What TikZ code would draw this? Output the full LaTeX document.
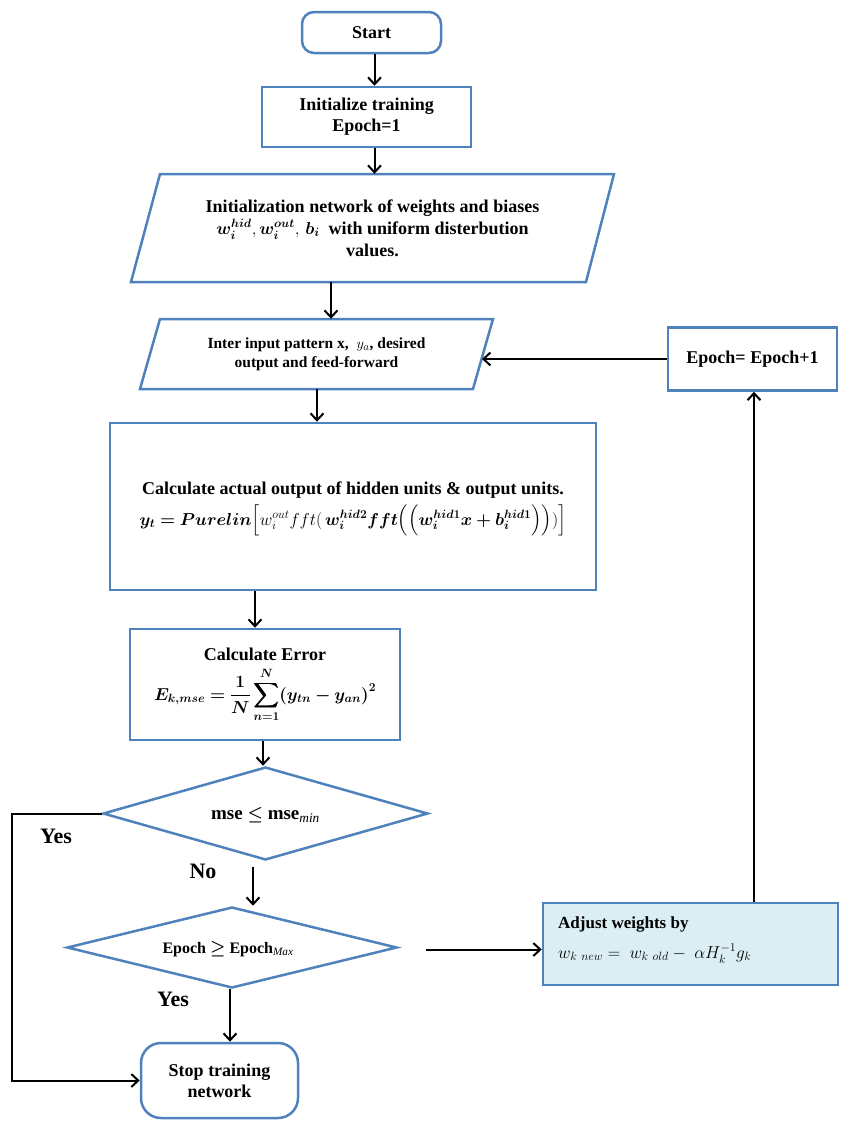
\documentclass[tikz,border=0pt]{standalone}
\usepackage{amsmath}
\usepackage{bm}
\usepackage{fontspec}
\setmainfont{Liberation Serif}
\usetikzlibrary{arrows.meta,shapes.geometric,calc}
\definecolor{bblue}{HTML}{4F81BD}
\definecolor{lblue}{HTML}{DBEEF4}
\begin{document}
\begin{tikzpicture}[x=1pt,y=-1pt,
  box/.style={draw=bblue,line width=2.5pt,fill=white,align=center,inner sep=0pt,font=\fontsize{18}{21}\selectfont\bfseries},
  dia/.style={draw=bblue,line width=2.5pt,diamond,inner sep=0pt,aspect=3.5},
  arr/.style={line width=2pt,-{Straight Barb[length=7pt,width=13pt,line width=2pt]}},
  lbl/.style={font=\fontsize{22}{26}\selectfont\bfseries}]
\useasboundingbox (0,0) rectangle (852,1127);
% nodes
\node[box,rounded corners=12pt,minimum width=139pt,minimum height=41pt] (start) at (371.5,32.5) {Start};
\node[box,minimum width=209pt,minimum height=60pt] (init) at (366.5,117) {Initialize training\\Epoch=1};
% parallelogram 1
\draw[draw=bblue,line width=2.5pt] (160,174) -- (614,174) -- (586,282) -- (131,282) -- cycle;
\node[align=center,inner sep=0pt,minimum width=483pt,minimum height=108pt,font=\fontsize{18}{22}\selectfont\bfseries] (par1) at (372.5,228)
 {Initialization network of weights and biases\\
  $\bm{w_i^{hid}},\bm{w_i^{out}},\,\bm{b_i}$\ \ with uniform disterbution\\ values.};
% parallelogram 2
\draw[draw=bblue,line width=2.5pt] (160,319) -- (493,319) -- (473,389) -- (140,389) -- cycle;
\node[align=center,inner sep=0pt,minimum width=353pt,minimum height=70pt,font=\fontsize{15.5}{19}\selectfont\bfseries] (par2) at (316.5,354)
 {Inter input pattern x,\ \ $y_a$, desired\\ output and feed-forward};
\coordinate (par2r) at (482,359);
% calc box
\node[box,minimum width=486pt,minimum height=167pt,font=\fontsize{18}{22}\selectfont\bfseries] (calc) at (353,506.5) {};
\node[align=center,inner sep=0pt,font=\fontsize{18}{22}\selectfont\bfseries] (calct) at (353,509)
 {Calculate actual output of hidden units \& output units.\\[6pt]
  $\bm{y_t = Purelin}\Big[w_i^{out}fft(\,\bm{w_i^{hid2}fft}\Big(\Big(\bm{w_i^{hid1}x+b_i^{hid1}}\Big)\Big))\Big]$};
% error box
\node[box,minimum width=270pt,minimum height=111pt] (err) at (265,684.5) {};
\node[align=center,inner sep=0pt,font=\fontsize{18}{21}\selectfont\bfseries] (errt) at (265,685)
 {Calculate Error\\[6pt]
  $\displaystyle\bm{E_{k,mse}=\frac{1}{N}\sum_{n=1}^{N}(y_{tn}-y_{an})^2}$};
% diamonds
\node[dia,minimum width=325pt,minimum height=93pt] (d1) at (265.5,813.5) {};
\node[font=\fontsize{19}{22}\selectfont\bfseries] at (265.5,815) {mse $\bm{\leq}$ mse$_{\mathit{min}}$};
\node[dia,minimum width=330pt,minimum height=81pt] (d2) at (232,947.5) {};
\node[font=\fontsize{16}{19}\selectfont\bfseries] at (228,949) {Epoch $\bm{\geq}$ Epoch$_{\mathit{Max}}$};
% stop
\node[box,rounded corners=20pt,minimum width=157pt,minimum height=75pt] (stop) at (219.5,1080.5) {Stop training\\network};
% adjust
\node[draw=bblue,line width=2.5pt,fill=lblue,minimum width=295pt,minimum height=82pt,inner sep=0pt] (adj) at (690.5,944) {};
\node[anchor=west,align=left,inner sep=0pt,font=\fontsize{17}{30}\selectfont] (adjt) at (558,940)
 {\textbf{Adjust weights by}\\ \fontsize{18}{30}\selectfont$w_{k\ new}=\ w_{k\ old}-\ \alpha H_k^{-1}g_k$};
% epoch
\node[box,minimum width=169pt,minimum height=63pt] (ep) at (752.5,359) {Epoch= Epoch+1};
% labels
\node[lbl] (yes1) at (56,836) {Yes};
\node[lbl] (no) at (203,871) {No};
\node[lbl] (yes2) at (173,999) {Yes};
% connectors
\draw[arr] ([xshift=3pt]start.south) -- ([xshift=3pt]start.south |- init.north);
\draw[arr] ([xshift=8pt]init.south) -- ([xshift=8pt]init.south |- par1.north);
\draw[arr] ([xshift=-41.5pt]par1.south) -- ([xshift=-41.5pt]par1.south |- par2.north);
\draw[arr] ([xshift=0.5pt]par2.south) -- ([xshift=0.5pt]par2.south |- calc.north);
\draw[arr] ([xshift=-10pt]err.north |- calc.south) -- ([xshift=-10pt]err.north);
\draw[arr] ([xshift=-2.5pt]d1.north |- err.south) -- ([xshift=-2.5pt]d1.north);
\draw[arr] ([xshift=-12.5pt,yshift=-6pt]d1.south) -- ([xshift=-12.5pt]d1.south |- d2.north);
\draw[arr] ([xshift=-2pt]d2.south) -- ([xshift=-2pt]d2.south |- stop.north);
\draw[arr] (d1.west) -- ++(-90,0) |- (stop.west);
\draw[arr] ([xshift=28pt,yshift=-2pt]d2.east) -- ([yshift=-2pt]d2.east -| adj.west);
\draw[arr] ([xshift=1.5pt]ep.south |- adj.north) -- ([xshift=1.5pt]ep.south);
\draw[arr] (ep.west) -- (par2r);
\end{tikzpicture}
\end{document}
